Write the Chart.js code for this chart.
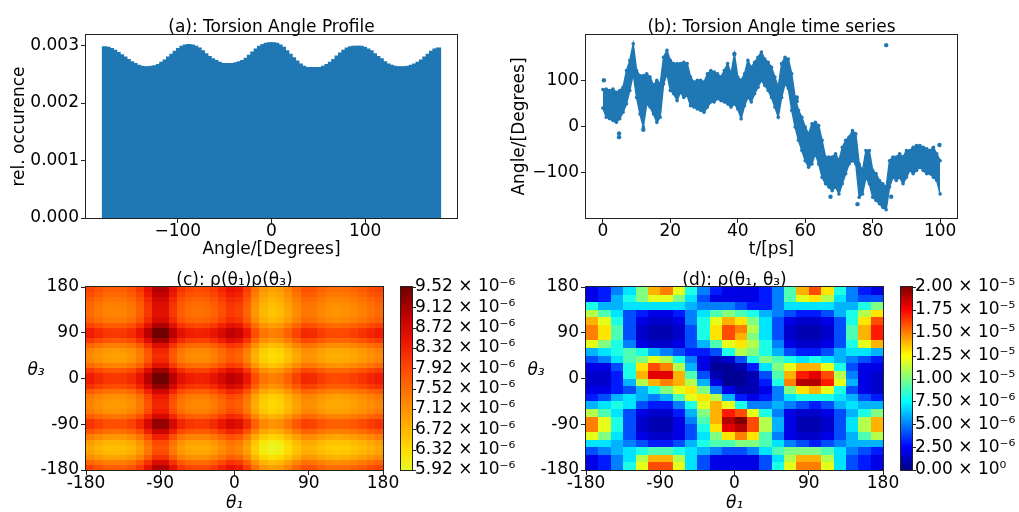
<!DOCTYPE html>
<html>
<head>
<meta charset="utf-8">
<script src="https://cdn.jsdelivr.net/npm/chart.js@4.4.0/dist/chart.umd.min.js"></script>
<style>
  body { margin: 0; background: #fff; width: 1019px; height: 512px; overflow: hidden; position: relative; }
  canvas { position: absolute; }
</style>
</head>
<body>
<canvas id="profile" width="470" height="260" style="left:0;top:0"></canvas>
<canvas id="series" width="519" height="260" style="left:500px;top:0"></canvas>
<canvas id="product" width="520" height="252" style="left:0;top:260px"></canvas>
<canvas id="joint" width="519" height="252" style="left:500px;top:260px"></canvas>
<script>
// ---- (a) histogram, 100 bins over -180..180 deg
const histCounts = [
  0.00297, 0.00296, 0.00294, 0.00291, 0.00287, 0.00283, 0.00279, 0.00275, 0.00271, 0.00268,
  0.00265, 0.00263, 0.00262, 0.00262, 0.00263, 0.00264, 0.00266, 0.00270, 0.00274, 0.00279,
  0.00284, 0.00289, 0.00294, 0.00298, 0.00300, 0.00301, 0.00300, 0.00298, 0.00295, 0.00290,
  0.00285, 0.00280, 0.00276, 0.00273, 0.00270, 0.00268, 0.00268, 0.00268, 0.00268, 0.00269,
  0.00271, 0.00273, 0.00277, 0.00282, 0.00288, 0.00293, 0.00298, 0.00301, 0.00303, 0.00304,
  0.00304, 0.00303, 0.00300, 0.00296, 0.00290, 0.00284, 0.00278, 0.00272, 0.00267, 0.00263,
  0.00261, 0.00261, 0.00261, 0.00261, 0.00261, 0.00263, 0.00266, 0.00270, 0.00275, 0.00281,
  0.00286, 0.00291, 0.00295, 0.00297, 0.00298, 0.00298, 0.00298, 0.00296, 0.00293, 0.00290,
  0.00285, 0.00280, 0.00276, 0.00271, 0.00267, 0.00265, 0.00263, 0.00262, 0.00262, 0.00262,
  0.00263, 0.00265, 0.00267, 0.00270, 0.00274, 0.00279, 0.00284, 0.00289, 0.00293, 0.00295
];
const histCenters = histCounts.map((_, i) => -180 + (360 / histCounts.length) * (i + 0.5));
const profileTicksX = [-100, 0, 100];
const profileTicksY = [0, 0.001, 0.002, 0.003];

const angleUpper = [
  80, 81, 78, 81, 74, 78, 85, 121, 143, 179, 121, 110, 110, 114, 107, 89, 100, 92, 150, 165,
  143, 136, 136, 136, 139, 136, 107, 96, 100, 100, 96, 114, 121, 118, 114, 107, 121, 136, 114, 157,
  107, 100, 114, 143, 128, 139, 150, 161, 146, 139, 128, 107, 85, 136, 150, 146, 114, 63, 35, 20,
  -1, -16, 6, 9, 2, -30, -66, -66, -66, -59, -74, -45, -30, -23, -9, -16, -81, -95, -52, -52,
  -95, -102, -117, -124, -131, -74, -66, -66, -59, -66, -52, -52, -45, -41, -41, -45, -48, -52, -45, -59,
  -74
];
const angleLower = [
  40, 20, 17, 13, 9, 17, 31, 49, 78, 114, 63, 27, -1, 49, 42, 27, 9, 20, 92, 114,
  78, 71, 56, 74, 63, 67, 45, 42, 38, 35, 31, 42, 53, 53, 60, 56, 53, 49, 42, 49,
  38, 17, 45, 63, 53, 71, 85, 100, 89, 78, 63, 42, 20, 63, 92, 82, 35, -1, -30, -52,
  -74, -88, -81, -59, -81, -110, -124, -131, -139, -131, -146, -124, -102, -81, -74, -81, -153, -146, -110, -124,
  -153, -160, -167, -175, -180, -131, -110, -117, -110, -124, -110, -95, -102, -95, -88, -95, -102, -102, -110, -117,
  -146
];
const sampleTimes = angleUpper.map((_, i) => i);
const outlierPoints = [
  { x: 84, y: 176 }, { x: 4.8, y: -23 }, { x: 4.8, y: -15 }, { x: 12, y: -7 }, { x: 57.5, y: 63 },
  { x: 57.5, y: 55 }, { x: 39, y: 157 }, { x: 85.5, y: -152 }, { x: 75.5, y: -168 },
  { x: 67.5, y: -152 }, { x: 99.8, y: -40 }, { x: 0.3, y: 100 }
];
const seriesTicksX = [0, 20, 40, 60, 80, 100];
const seriesTicksY = [-100, 0, 100];

// ---- (c) marginal profiles (x1e-3 per degree), 10 deg bins from -180
const rhoTheta1 = [2.82, 2.76, 2.72, 2.71, 2.72, 2.76, 2.86, 3.02, 3.20, 3.20, 3.02, 2.87,
  2.81, 2.79, 2.80, 2.85, 2.93, 3.01, 2.98, 2.84, 2.64, 2.50, 2.45, 2.48,
  2.57, 2.68, 2.77, 2.76, 2.70, 2.66, 2.65, 2.66, 2.69, 2.73, 2.78, 2.82];
const rhoTheta3 = [2.83, 2.70, 2.55, 2.46, 2.44, 2.48, 2.60, 2.76, 2.89, 2.89, 2.74, 2.62,
  2.58, 2.59, 2.63, 2.75, 2.90, 2.98, 2.98, 2.86, 2.68, 2.58, 2.56, 2.59,
  2.70, 2.86, 2.98, 2.97, 2.84, 2.72, 2.68, 2.68, 2.70, 2.74, 2.79, 2.83];
const productTicks = [5.92, 6.32, 6.72, 7.12, 7.52, 7.92, 8.32, 8.72, 9.12, 9.52];

// ---- (d) joint density (x1e-6), 15 deg cells, first row is theta3 = 180 (top)
const jointDensity = [
  [2, 3, 5, 7, 10, 14, 15, 12, 8, 5, 3, 2, 2, 2, 3, 5, 9, 14, 16, 13, 8, 5, 3, 2],
  [2, 3, 6, 8, 10, 12, 12, 10, 7, 4, 2, 2, 2, 2, 3, 5, 9, 12, 13, 11, 7, 5, 4, 4],
  [8, 6, 6, 7, 7, 7, 7, 7, 6, 5, 5, 5, 4, 3, 3, 5, 7, 7, 7, 7, 6, 6, 8, 10],
  [11, 9, 7, 4, 3, 2, 2, 3, 5, 7, 9, 10, 9, 8, 6, 5, 4, 3, 3, 4, 6, 8, 11, 13],
  [14, 12, 8, 4, 2, 1.5, 1.5, 2, 5, 8, 12, 14, 13, 10, 7, 4, 2, 1.5, 1.5, 2, 4, 8, 13, 16],
  [15, 13, 9, 4, 1.5, 1, 1, 1.5, 4, 8, 13, 16, 15, 11, 7, 4, 1.5, 1, 1, 1.5, 4, 9, 14, 17],
  [15, 13, 9, 4, 1.5, 1, 1, 1.5, 4, 8, 13, 16, 14, 10, 7, 4, 1.5, 1, 1, 1.5, 4, 9, 14, 17],
  [12, 10, 8, 5, 2, 1.5, 1.5, 2, 4, 6, 9, 12, 13, 11, 8, 5, 2, 1.5, 1.5, 2, 4, 8, 12, 14],
  [6, 7, 8, 9, 8, 6, 5, 4, 3, 3, 4, 8, 11, 10, 8, 6, 4, 3, 3, 4, 6, 7, 7, 6],
  [4, 5, 7, 9, 10, 12, 11, 8, 5, 2, 1, 1.5, 4, 8, 10, 9, 8, 7, 8, 7, 6, 5, 4, 3],
  [2, 2, 4, 8, 13, 16, 15, 11, 6, 2, 0.5, 0.5, 1, 3, 7, 10, 12, 14, 14, 12, 8, 4, 2, 2],
  [1.5, 1.5, 3, 8, 14, 18, 18, 14, 9, 4, 1, 0.5, 0.5, 1, 4, 9, 14, 17, 18, 16, 11, 5, 2, 1.5],
  [1.5, 1.5, 3, 6, 11, 14, 15, 14, 11, 6, 2, 0.5, 0.5, 1, 3, 8, 15, 19, 19, 17, 12, 6, 2, 1.5],
  [2, 2, 3, 4, 6, 8, 10, 12, 13, 10, 5, 2, 1, 1, 2, 5, 10, 13, 14, 12, 8, 4, 2, 1.5],
  [3, 4, 6, 7, 6, 5, 6, 9, 12, 13, 11, 6, 3, 2, 3, 5, 7, 8, 8, 8, 7, 6, 4, 3],
  [6, 7, 8, 7, 4, 3, 3, 5, 8, 12, 14, 12, 8, 5, 5, 6, 5, 4, 3, 4, 6, 7, 6, 6],
  [11, 9, 7, 4, 2, 1.5, 1.5, 3, 6, 10, 14, 17, 16, 12, 8, 5, 2, 1.5, 1.5, 2, 4, 6, 8, 10],
  [15, 12, 8, 4, 1.5, 1, 1, 2, 5, 9, 14, 19, 20, 16, 11, 6, 2, 1, 1, 1.5, 4, 7, 11, 14],
  [15, 12, 8, 4, 1.5, 1, 1, 2, 4, 8, 13, 18, 19, 16, 11, 6, 2, 1, 1, 1.5, 4, 7, 11, 14],
  [12, 10, 7, 4, 2, 1.5, 1.5, 2, 4, 7, 10, 13, 15, 13, 9, 5, 2, 1.5, 1.5, 2, 4, 6, 9, 11],
  [7, 7, 6, 5, 4, 3, 3, 4, 6, 8, 9, 9, 10, 10, 9, 7, 5, 4, 3, 4, 5, 6, 6, 6],
  [4, 5, 6, 7, 8, 9, 9, 8, 7, 6, 5, 4, 4, 5, 7, 9, 10, 10, 10, 9, 7, 5, 4, 3],
  [2, 3, 5, 7, 11, 14, 14, 11, 7, 4, 2, 2, 2, 2, 4, 7, 11, 14, 14, 11, 7, 4, 3, 2],
  [2, 3, 5, 8, 12, 16, 16, 12, 7, 4, 2, 2, 2, 2, 4, 8, 12, 15, 15, 12, 7, 4, 3, 2]
];
const jointTicks = [0, 2.5, 5, 7.5, 10, 12.5, 15, 17.5, 20];
const angleTicks = [-180, -90, 0, 90, 180];

const BLUE = "#1f77b4";
const SPINE = "#222";

Chart.defaults.font.family = "'DejaVu Sans', sans-serif";
Chart.defaults.font.size = 17;
Chart.defaults.color = "#000";
Chart.defaults.animation = false;
Chart.defaults.plugins.legend.display = false;
Chart.defaults.plugins.tooltip.enabled = false;

// colour maps
function hotMap(t) {
  const stops = [
    [0.0, [228, 252, 40]], [0.1, [255, 222, 0]], [0.25, [255, 172, 0]], [0.4, [255, 124, 0]],
    [0.55, [255, 74, 0]], [0.7, [238, 22, 0]], [0.85, [190, 0, 0]], [1.0, [110, 0, 0]]
  ];
  t = Math.max(0, Math.min(1, t));
  for (let i = 1; i < stops.length; i++) {
    if (t <= stops[i][0]) {
      const [t0, c0] = stops[i - 1], [t1, c1] = stops[i];
      const f = (t - t0) / (t1 - t0);
      const c = c0.map((v, k) => Math.round(v + (c1[k] - v) * f));
      return `rgb(${c[0]},${c[1]},${c[2]})`;
    }
  }
  return "rgb(110,0,0)";
}
function jetMap(t) {
  t = Math.max(0, Math.min(1, t));
  const ch = (v) => Math.round(255 * Math.max(0, Math.min(1, v)));
  return `rgb(${ch(1.5 - Math.abs(4 * t - 3))},${ch(1.5 - Math.abs(4 * t - 2))},${ch(1.5 - Math.abs(4 * t - 1))})`;
}

const framePlugin = {
  id: "frame",
  afterDraw(chart) {
    const { ctx, chartArea: a } = chart;
    ctx.save();
    ctx.strokeStyle = SPINE;
    ctx.lineWidth = 1;
    ctx.strokeRect(Math.round(a.left) - 0.5, Math.round(a.top) - 0.5,
      Math.round(a.right - a.left) + 1, Math.round(a.bottom - a.top) + 1);
    ctx.restore();
  },
};

// heatmap cells + colorbar + horizontal theta3 label
function heatmapPlugin(cells, cmap, vmin, vmax) {
  const norm = (v) => cmap((v - vmin) / (vmax - vmin));
  return {
    id: "heatmap",
    beforeDatasetsDraw(chart) {
      const { ctx, chartArea } = chart;
      const xs = chart.scales.x, ys = chart.scales.y, cb = chart.scales.cb;
      ctx.save();
      cells.forEach((c) => {
        const x0 = Math.round(xs.getPixelForValue(c.x0)), x1 = Math.round(xs.getPixelForValue(c.x1));
        const y0 = Math.round(ys.getPixelForValue(c.y0)), y1 = Math.round(ys.getPixelForValue(c.y1));
        ctx.fillStyle = norm(c.v);
        ctx.fillRect(x0, y1, x1 - x0, y0 - y1);
      });
      // colorbar
      const left = Math.round(chartArea.right) + 18, w = 11;
      for (let py = Math.round(cb.top); py < Math.round(cb.bottom); py++) {
        ctx.fillStyle = norm(cb.getValueForPixel(py + 0.5));
        ctx.fillRect(left, py, w, 1);
      }
      ctx.strokeStyle = SPINE;
      ctx.lineWidth = 1;
      ctx.strokeRect(left - 0.5, Math.round(cb.top) - 0.5, w + 1, Math.round(cb.bottom - cb.top) + 1);
      ctx.beginPath();
      cb.ticks.forEach((t) => {
        const py = Math.round(cb.getPixelForValue(t.value)) + 0.5;
        ctx.moveTo(left + w, py);
        ctx.lineTo(left + w + 4, py);
      });
      ctx.stroke();
      // theta3 label
      ctx.fillStyle = "#000";
      ctx.font = "italic 17px 'DejaVu Sans'";
      ctx.textAlign = "center";
      ctx.textBaseline = "middle";
      ctx.fillText("θ₃", chartArea.left - 50, (chartArea.top + chartArea.bottom) / 2 - 8);
      ctx.restore();
    },
  };
}

const minus = (v) => String(v).replace("-", "\u2212");
function fixedTicks(values) {
  return (s) => { s.ticks = values.map((v) => ({ value: v })); };
}
function xAxis(min, max, ticks, title, callback) {
  return {
    type: "linear", min, max, offset: false,
    afterBuildTicks: fixedTicks(ticks),
    afterFit: (s) => { s.height = 42; },
    grid: { drawOnChartArea: false, tickLength: 5, color: SPINE, offset: false },
    border: { display: false },
    ticks: { padding: -2, maxRotation: 0, autoSkip: false, callback },
    title: { display: true, text: title, padding: { top: 0, bottom: 0 } },
  };
}
function yAxis(min, max, ticks, title, callback) {
  return {
    type: "linear", min, max,
    afterBuildTicks: fixedTicks(ticks),
    afterFit: (s) => { s.width = 86; },
    grid: { drawOnChartArea: false, tickLength: 5, color: SPINE },
    border: { display: false },
    ticks: { padding: 2, autoSkip: false, callback },
    title: { display: !!title, text: title, padding: { top: 9 } },
  };
}
// title sits over the plot area only (fullSize false) like matplotlib's axes title
function titleOpts(text, top, bottom) {
  return {
    display: true, text, fullSize: false, color: "#000",
    font: { size: 17, weight: "normal", lineHeight: 1 }, padding: { top, bottom },
  };
}

// (a)
new Chart(document.getElementById("profile"), {
  type: "bar",
  data: {
    datasets: [{
      data: histCenters.map((x, i) => ({ x, y: histCounts[i] })),
      backgroundColor: BLUE, borderWidth: 0, barPercentage: 1, categoryPercentage: 1,
      inflateAmount: 1,
    }],
  },
  options: {
    responsive: false,
    layout: { padding: { right: 13 } },
    scales: {
      x: xAxis(-198, 198, profileTicksX, "Angle/[Degrees]", minus),
      y: yAxis(0, 0.003183, profileTicksY, "rel. occurence", (v) => v.toFixed(3)),
    },
    plugins: { title: titleOpts("(a): Torsion Angle Profile", 19.5, -1.5) },
  },
  plugins: [framePlugin],
});

// (b)
new Chart(document.getElementById("series"), {
  type: "line",
  data: {
    datasets: [
      {
        data: sampleTimes.map((t, i) => ({ x: t, y: angleUpper[i] })),
        borderColor: BLUE, borderWidth: 1.5, pointRadius: 1.8, pointBorderWidth: 0,
        pointBackgroundColor: BLUE, tension: 0, fill: false,
      },
      {
        data: sampleTimes.map((t, i) => ({ x: t, y: angleLower[i] })),
        borderColor: BLUE, borderWidth: 1.5, pointRadius: 1.8, pointBorderWidth: 0,
        pointBackgroundColor: BLUE, tension: 0, fill: "-1", backgroundColor: BLUE,
      },
      {
        type: "scatter",
        data: outlierPoints,
        pointRadius: 2.2, pointBorderWidth: 0, pointBackgroundColor: BLUE,
      },
    ],
  },
  options: {
    responsive: false,
    layout: { padding: { right: 62 } },
    scales: {
      x: xAxis(-5, 105, seriesTicksX, "t/[ps]", minus),
      y: yAxis(-198, 198, seriesTicksY, "Angle/[Degrees]", minus),
    },
    plugins: { title: titleOpts("(b): Torsion Angle time series", 19.5, -1.5) },
  },
  plugins: [framePlugin],
});

// heatmap chart builder
function heatChart(id, title, cells, cmap, vmin, vmax, cbTicks, cbLabel, rightWidth) {
  const x = xAxis(-180, 180, angleTicks, "θ₁", (v) => String(v));
  x.title.font = { style: "italic", lineHeight: 1 };
  return new Chart(document.getElementById(id), {
    type: "scatter",
    data: { datasets: [] },
    options: {
      responsive: false,
      scales: {
        x,
        y: yAxis(-180, 180, angleTicks, "", (v) => String(v)),
        cb: {
          type: "linear", axis: "y", position: "right", min: vmin, max: vmax,
          afterBuildTicks: fixedTicks(cbTicks),
          afterFit: (s) => { s.width = rightWidth; },
          // invisible 30px tick marks push the labels past the colorbar
          grid: { display: true, drawOnChartArea: false, drawTicks: true, tickLength: 30, color: "rgba(0,0,0,0)" },
          border: { display: false },
          ticks: { padding: 2, autoSkip: false, callback: cbLabel },
        },
      },
      plugins: { title: titleOpts(title, 12.5, -2.5) },
    },
    plugins: [heatmapPlugin(cells, cmap, vmin, vmax), framePlugin],
  });
}

// (c) cells: rho(theta1) * rho(theta3)
const productCells = [];
rhoTheta3.forEach((r3, j) => {
  rhoTheta1.forEach((r1, i) => {
    productCells.push({ x0: -180 + 10 * i, x1: -170 + 10 * i, y0: -180 + 10 * j, y1: -170 + 10 * j, v: r1 * r3 });
  });
});
// (d) cells
const jointCells = [];
jointDensity.forEach((row, r) => {
  row.forEach((v, c) => {
    jointCells.push({ x0: -180 + 15 * c, x1: -165 + 15 * c, y0: 165 - 15 * r, y1: 180 - 15 * r, v });
  });
});

function jointLabel(v) {
  if (v === 0) return "0.00 × 10⁰";
  if (v >= 10) return (v / 10).toFixed(2) + " × 10⁻⁵";
  return v.toFixed(2) + " × 10⁻⁶";
}

heatChart("product", "(c): ρ(θ₁)ρ(θ₃)", productCells, hotMap, 5.92, 9.52, productTicks,
  (v) => v.toFixed(2) + " × 10⁻⁶", 137);
heatChart("joint", "(d): ρ(θ₁, θ₃)", jointCells, jetMap, 0, 20, jointTicks, jointLabel, 136);
</script>
</body>
</html>
